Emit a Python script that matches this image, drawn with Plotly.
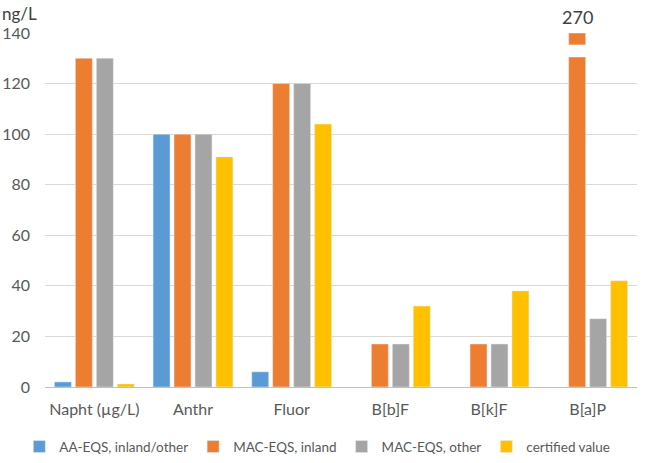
import plotly.graph_objects as go

categories = ["Napht (µg/L)", "Anthr", "Fluor", "B[b]F", "B[k]F", "B[a]P"]
aa_eqs = [2, 100, 6, None, None, None]
mac_inland = [130, 100, 120, 17, 17, 270]
mac_other = [130, 100, 120, 17, 17, 27]
certified = [1.2, 91, 104, 32, 38, 42]
y_ticks = [0, 20, 40, 60, 80, 100, 120, 140]
unit_label = "ng/L"

axis_max = 140
break_low, break_high = 130.5, 135.3

colors = ["#5B9BD5", "#ED7D31", "#A5A5A5", "#FFC000"]
names = ["AA-EQS, inland/other", "MAC-EQS, inland", "MAC-EQS, other", "certified value"]
bargap = 0.15
font = "Lato, 'Open Sans', sans-serif"
txt = "#595959"
W, H = 649, 463
M = dict(l=45, r=12, t=33, b=76)
plot_h = H - M["t"] - M["b"]

fig = go.Figure()
series = [aa_eqs, mac_inland, mac_other, certified]
for i, (vals, name, col) in enumerate(zip(series, names, colors)):
    shown = [None if v is None else (min(v, break_low) if v > axis_max else v) for v in vals]
    fig.add_trace(go.Bar(x=categories, y=shown, name=name, marker_color=col,
                         offsetgroup=str(i), hoverinfo="skip"))

# upper stub of broken bars
stub_base = [break_high if (v is not None and v > axis_max) else None for v in mac_inland]
stub_len = [axis_max - break_high if (v is not None and v > axis_max) else None for v in mac_inland]
fig.add_trace(go.Bar(x=categories, y=stub_len, base=stub_base, marker_color=colors[1],
                     offsetgroup="1", showlegend=False, hoverinfo="skip"))

# label of broken bar
slot = (1 - bargap) / 4
offset = -(1 - bargap) / 2 + 1.5 * slot
for idx, v in enumerate(mac_inland):
    if v > axis_max:
        fig.add_annotation(x=idx + offset, xref="x", y=1 + 16 / plot_h, yref="paper",
                           yanchor="middle", text=str(v), showarrow=False,
                           font=dict(size=18, color="#404040", family=font))

fig.add_annotation(x=-M["l"] / (W - M["l"] - M["r"]), xref="paper", xanchor="left",
                   y=1 + 20 / plot_h, yref="paper", yanchor="middle",
                   text=unit_label, showarrow=False,
                   font=dict(size=17, color="#404040", family=font))

fig.update_layout(
    width=W, height=H,
    margin=dict(**M, autoexpand=False),
    barmode="group", bargap=bargap, bargroupgap=0.19,
    plot_bgcolor="white", paper_bgcolor="white",
    font=dict(family=font, color=txt, size=15),
    legend=dict(orientation="h", x=0.46, xanchor="center", y=-0.125, yanchor="top",
                font=dict(size=13.5, color=txt), itemwidth=30, traceorder="normal"),
    xaxis=dict(showline=True, linecolor="#BFBFBF", linewidth=1, ticks="",
               tickfont=dict(size=16, color=txt), showgrid=False, automargin=False,
               ticklabelstandoff=8),
    yaxis=dict(range=[0, axis_max], tickvals=y_ticks, showgrid=True, gridcolor="#D9D9D9",
               zeroline=False, showline=False, tickfont=dict(size=16, color=txt),
               ticklabelstandoff=14, automargin=False),
)
fig.write_html("out.html", config={"displayModeBar": False},
               post_script="document.body.style.margin='0';")
